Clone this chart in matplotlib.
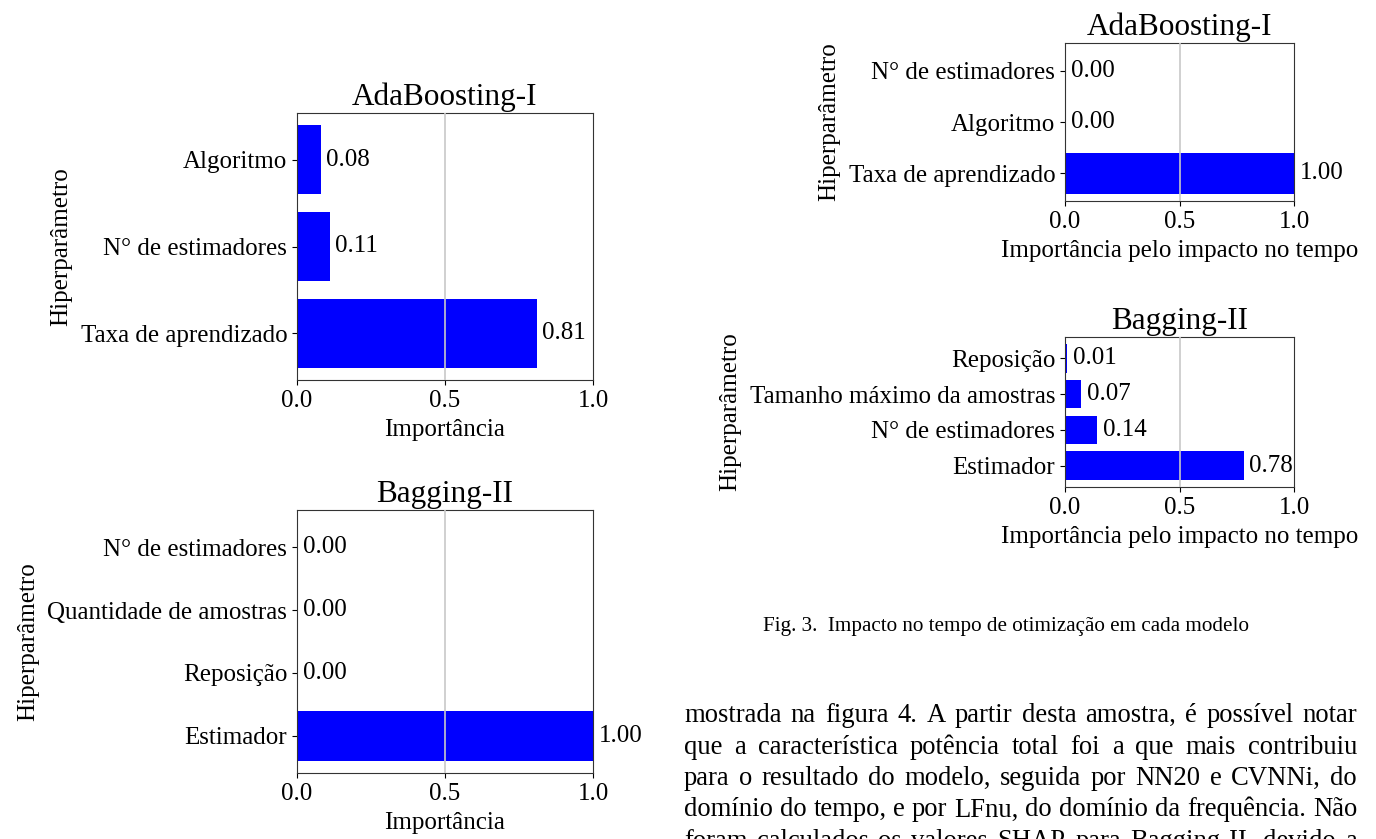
import matplotlib
matplotlib.use('Agg')
import matplotlib.pyplot as plt

plt.rcParams['font.family'] = ['Liberation Serif', 'DejaVu Serif']

# importancia dos hiperparametros (de baixo para cima)
ada_params = ['Taxa de aprendizado', 'N° de estimadores', 'Algoritmo']
ada_imp = [0.81, 0.11, 0.08]

bag_params = ['Estimador', 'Reposição', 'Quantidade de amostras', 'N° de estimadores']
bag_imp = [1.00, 0.00, 0.00, 0.00]

ada_t_params = ['Taxa de aprendizado', 'Algoritmo', 'N° de estimadores']
ada_t_imp = [1.00, 0.00, 0.00]

bag_t_params = ['Estimador', 'N° de estimadores', 'Tamanho máximo da amostras', 'Reposição']
bag_t_imp = [0.78, 0.14, 0.07, 0.01]

caption = 'Fig. 3.  Impacto no tempo de otimização em cada modelo'
body = [
    'mostrada na figura 4. A partir desta amostra, é possível notar',
    'que a característica potência total foi a que mais contribuiu',
    'para o resultado do modelo, seguida por NN20 e CVNNi, do',
    'domínio do tempo, e por LFnu, do domínio da frequência. Não',
    'foram calculados os valores SHAP para Bagging-II, devido a',
]

W, H = 1376, 839
fig = plt.figure(figsize=(W / 100, H / 100), dpi=100)


def box(x0, x1, y0, y1):
    return [x0 / W, 1 - y1 / H, (x1 - x0) / W, (y1 - y0) / H]


def importance(rect, title, params, vals, xlabel):
    ax = fig.add_axes(rect)
    ax.barh(params, vals, height=0.8, color='blue')
    for i, v in enumerate(vals):
        ax.annotate('%.2f' % v, (v, i), xytext=(4, 0), textcoords='offset points',
                    va='center', ha='left', fontsize=18)
    ax.set_xlim(0, 1)
    ax.set_xticks([0, 0.5, 1.0])
    ax.axvline(0.5, color='#c8c8c8', lw=1.2, zorder=3)
    ax.set_title(title, fontsize=22.5, pad=6)
    ax.set_xlabel(xlabel, fontsize=18, labelpad=5)
    ax.set_ylabel('Hiperparâmetro', fontsize=18, labelpad=6)
    ax.tick_params(labelsize=18)
    for s in ax.spines.values():
        s.set_color('#333333')
    return ax


importance(box(297, 593, 113, 380), 'AdaBoosting-I', ada_params, ada_imp, 'Importância')
importance(box(297, 593, 510, 773), 'Bagging-II', bag_params, bag_imp, 'Importância')
importance(box(1065, 1294, 43, 201), 'AdaBoosting-I', ada_t_params, ada_t_imp,
           'Importância pelo impacto no tempo')
importance(box(1065, 1294, 337, 487), 'Bagging-II', bag_t_params, bag_t_imp,
           'Importância pelo impacto no tempo')

fig.text(1006 / W, 1 - 631 / H, caption, fontsize=15.2, ha='center', va='baseline')

# texto do corpo, justificado
X0, X1 = 684, 1357
r = fig.canvas.get_renderer()
for k, line in enumerate(body):
    y = 1 - (722 + 31.5 * k) / H
    words = line.split()
    arts = [fig.text(0, y, w, fontsize=19.2, va='baseline') for w in words]
    widths = [a.get_window_extent(r).width for a in arts]
    gap = (X1 - X0 - sum(widths)) / (len(words) - 1)
    x = X0
    for a, w in zip(arts, widths):
        a.set_x(x / W)
        x += w + gap

fig.savefig('out.png', dpi=100)
